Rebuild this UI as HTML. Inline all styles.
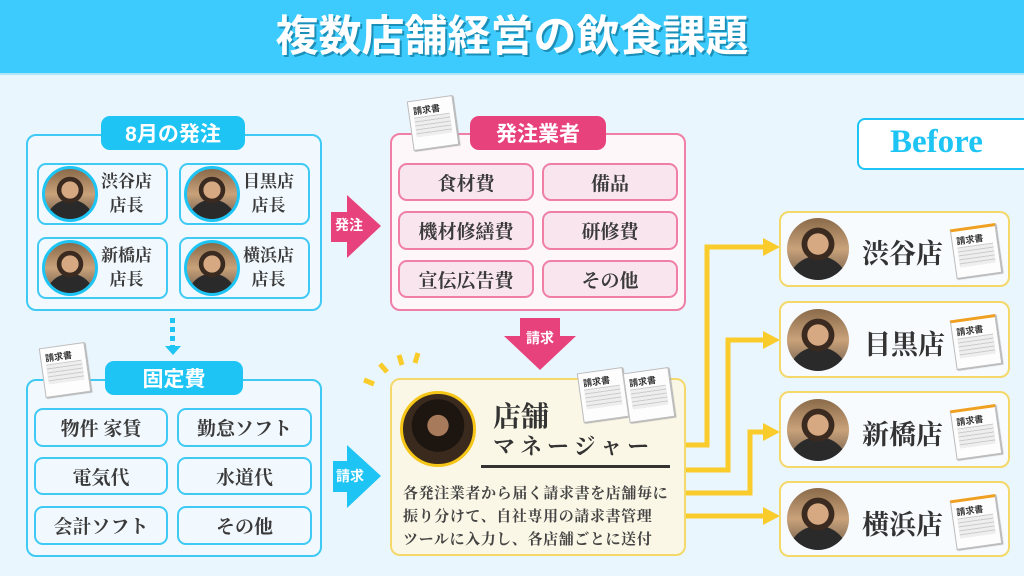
<!DOCTYPE html>
<html><head><meta charset="utf-8"><style>
*{margin:0;padding:0;box-sizing:border-box}
body{width:1024px;height:576px;overflow:hidden;background:#eaf6fd;position:relative;font-family:"Liberation Serif","Noto Serif CJK SC",serif;color:#333}
.a{position:absolute}
.g{font-family:"Liberation Sans","Noto Sans CJK JP",sans-serif;font-weight:bold}
.box{position:absolute;border-radius:10px;background:#f2f9fe}
.cell{position:absolute;border-radius:9px;display:flex;align-items:center;justify-content:center;font-size:19px;font-weight:bold;color:#3a3a3a}
.lab{position:absolute;border-radius:9px;color:#fff;display:flex;align-items:center;justify-content:center;font-size:21px}
.av{position:absolute;border-radius:50%;overflow:hidden;background:radial-gradient(circle at 50% 42%,#d7a982 0 22%,#3a2a20 23% 34%,transparent 35%),radial-gradient(circle at 50% 110%,#2a2a2a 0 40%,transparent 41%),linear-gradient(#8a6a4a,#c9a27a 50%,#6b5a4a)}
.inv{position:absolute;width:46px;height:50px;background:#fdfdfd;border:1px solid #bbb;transform:rotate(-8deg);box-shadow:1px 1px 1px #aaa}
.inv:before{content:"請求書";position:absolute;left:4px;top:3px;font-size:9px;font-weight:bold;font-family:"Noto Sans CJK JP",sans-serif}
.inv:after{content:"";position:absolute;left:4px;top:16px;width:36px;height:20px;background:repeating-linear-gradient(#ccc 0 1px,#eee 1px 4px)}
</style></head><body>
<div class="a g" style="left:0;top:0;width:1024px;height:75px;background:#3ccbfc;border-bottom:2px solid #aee6fb;color:#fff;font-size:43px;text-align:center;line-height:75px;text-shadow:2px 2px 0 #1b8fb8">複数店舗経営の飲食課題</div>

<!-- left top -->
<div class="box" style="left:26px;top:134px;width:296px;height:177px;border:2px solid #3fcaf5"></div>
<div class="lab g" style="left:101px;top:116px;width:144px;height:34px;background:#1ec4f4">8月の発注</div>
<div class="cell" style="left:37px;top:163px;width:131px;height:62px;border:2px solid #3fcaf5;justify-content:flex-end;padding-right:14px;line-height:24px;font-size:17px;text-align:center">渋谷店<br>店長</div>
<div class="cell" style="left:179px;top:163px;width:131px;height:62px;border:2px solid #3fcaf5;justify-content:flex-end;padding-right:14px;line-height:24px;font-size:17px;text-align:center">目黒店<br>店長</div>
<div class="cell" style="left:37px;top:237px;width:131px;height:62px;border:2px solid #3fcaf5;justify-content:flex-end;padding-right:14px;line-height:24px;font-size:17px;text-align:center">新橋店<br>店長</div>
<div class="cell" style="left:179px;top:237px;width:131px;height:62px;border:2px solid #3fcaf5;justify-content:flex-end;padding-right:14px;line-height:24px;font-size:17px;text-align:center">横浜店<br>店長</div>
<div class="av" style="left:42px;top:166px;width:56px;height:56px;border:3px solid #1ec4f4"></div>
<div class="av" style="left:184px;top:166px;width:56px;height:56px;border:3px solid #1ec4f4"></div>
<div class="av" style="left:42px;top:240px;width:56px;height:56px;border:3px solid #1ec4f4"></div>
<div class="av" style="left:184px;top:240px;width:56px;height:56px;border:3px solid #1ec4f4"></div>
<div class="a" style="left:170px;top:318px;width:5px;height:30px;background:repeating-linear-gradient(#1ec4f4 0 5px,transparent 5px 9px)"></div>
<div class="a" style="left:165px;top:346px;border-left:8px solid transparent;border-right:8px solid transparent;border-top:9px solid #1ec4f4"></div>

<!-- left bottom -->
<div class="box" style="left:26px;top:379px;width:296px;height:178px;border:2px solid #3fcaf5"></div>
<div class="inv" style="left:42px;top:345px"></div>
<div class="lab g" style="left:105px;top:361px;width:138px;height:34px;background:#1ec4f4">固定費</div>
<div class="cell" style="left:34px;top:408px;width:134px;height:39px;border:2px solid #3fcaf5">物件 家賃</div>
<div class="cell" style="left:177px;top:408px;width:135px;height:39px;border:2px solid #3fcaf5">勤怠ソフト</div>
<div class="cell" style="left:34px;top:457px;width:134px;height:38px;border:2px solid #3fcaf5">電気代</div>
<div class="cell" style="left:177px;top:457px;width:135px;height:38px;border:2px solid #3fcaf5">水道代</div>
<div class="cell" style="left:34px;top:506px;width:134px;height:39px;border:2px solid #3fcaf5">会計ソフト</div>
<div class="cell" style="left:177px;top:506px;width:135px;height:39px;border:2px solid #3fcaf5">その他</div>

<!-- arrows -->
<svg class="a" style="left:0;top:0" width="1024" height="576">
<polygon points="331,212 347,212 347,195 381,226 347,258 347,242 331,242" fill="#e8427c"/>
<polygon points="333,461 347,461 347,445 381,476 347,508 347,492 333,492" fill="#1ec4f4"/>
<polygon points="520,318 560,318 560,336 576,336 540,370 504,336 520,336" fill="#e8427c"/>
<g stroke="#f9cc2c" stroke-width="5" fill="none">
<polyline points="686,445 707,445 707,247 765,247"/>
<polyline points="686,470 728,470 728,340 765,340"/>
<polyline points="686,493 750,493 750,432 765,432"/>
<polyline points="686,516 765,516"/>
<line x1="374" y1="384" x2="364" y2="380"/><line x1="387" y1="372" x2="380" y2="364"/>
<line x1="402" y1="365" x2="399" y2="355"/><line x1="415" y1="363" x2="418" y2="353"/>
</g>
<g fill="#f9cc2c">
<polygon points="763,238 780,247 763,256"/><polygon points="763,331 780,340 763,349"/>
<polygon points="763,423 780,432 763,441"/><polygon points="763,507 780,516 763,525"/>
</g>
</svg>
<div class="a g" style="left:335px;top:215px;color:#fff;font-size:14px">発注</div>
<div class="a g" style="left:336px;top:466px;color:#fff;font-size:14px">請求</div>
<div class="a g" style="left:526px;top:328px;color:#fff;font-size:14px">請求</div>

<!-- pink box -->
<div class="box" style="left:390px;top:133px;width:296px;height:178px;border:2px solid #ef7fa6;background:#fdf7fa"></div>
<div class="inv" style="left:410px;top:98px"></div>
<div class="lab g" style="left:470px;top:116px;width:136px;height:34px;background:#e8427c">発注業者</div>
<div class="cell" style="left:398px;top:163px;width:136px;height:38px;border:2px solid #ef7fa6;background:#f9e5ee">食材費</div>
<div class="cell" style="left:542px;top:163px;width:136px;height:38px;border:2px solid #ef7fa6;background:#f9e5ee">備品</div>
<div class="cell" style="left:398px;top:211px;width:136px;height:39px;border:2px solid #ef7fa6;background:#f9e5ee">機材修繕費</div>
<div class="cell" style="left:542px;top:211px;width:136px;height:39px;border:2px solid #ef7fa6;background:#f9e5ee">研修費</div>
<div class="cell" style="left:398px;top:260px;width:136px;height:38px;border:2px solid #ef7fa6;background:#f9e5ee">宣伝広告費</div>
<div class="cell" style="left:542px;top:260px;width:136px;height:38px;border:2px solid #ef7fa6;background:#f9e5ee">その他</div>

<!-- yellow box -->
<div class="box" style="left:390px;top:378px;width:296px;height:178px;border:2px solid #f5d86a;background:#fbf7e6"></div>
<div class="inv" style="left:580px;top:370px"></div>
<div class="inv" style="left:626px;top:370px"></div>
<div class="av" style="left:400px;top:391px;width:76px;height:76px;border:3px solid #f5c518;background:radial-gradient(circle at 50% 45%,#a67a5a 0 20%,#1d1510 21% 50%,#3a2a1e 51%)"></div>
<div class="a" style="left:493px;top:395px;font-size:28px;font-weight:bold">店舗</div>
<div class="a" style="left:493px;top:430px;font-size:22px;font-weight:bold;letter-spacing:5px">マネージャー</div>
<div class="a" style="left:481px;top:465px;width:189px;height:3px;background:#333"></div>
<div class="a" style="left:403px;top:483px;font-size:15px;font-weight:bold;line-height:23px;color:#444;letter-spacing:0.6px">各発注業者から届く請求書を店舗毎に<br>振り分けて、自社専用の請求書管理<br>ツールに入力し、各店舗ごとに送付</div>

<!-- Before -->
<div class="a" style="left:857px;top:118px;width:180px;height:52px;border:2px solid #1ec4f4;border-radius:8px;background:#fff"></div>
<div class="a" style="left:890px;top:124px;font-size:33px;font-weight:bold;color:#1ec4f4;font-family:'Liberation Serif',serif">Before</div>

<!-- right cards -->
<div class="box" style="left:779px;top:211px;width:231px;height:76px;border:2px solid #f5d86a;background:#f7fbfe"></div>
<div class="box" style="left:779px;top:301px;width:231px;height:77px;border:2px solid #f5d86a;background:#f7fbfe"></div>
<div class="box" style="left:779px;top:391px;width:231px;height:77px;border:2px solid #f5d86a;background:#f7fbfe"></div>
<div class="box" style="left:779px;top:481px;width:231px;height:76px;border:2px solid #f5d86a;background:#f7fbfe"></div>
<div class="av" style="left:787px;top:218px;width:62px;height:62px"></div>
<div class="av" style="left:787px;top:309px;width:62px;height:62px"></div>
<div class="av" style="left:787px;top:399px;width:62px;height:62px"></div>
<div class="av" style="left:787px;top:488px;width:62px;height:62px"></div>
<div class="a" style="left:862px;top:232px;font-size:27px;font-weight:bold">渋谷店</div>
<div class="a" style="left:864px;top:323px;font-size:27px;font-weight:bold">目黒店</div>
<div class="a" style="left:862px;top:413px;font-size:27px;font-weight:bold">新橋店</div>
<div class="a" style="left:862px;top:503px;font-size:27px;font-weight:bold">横浜店</div>
<div class="inv" style="left:953px;top:226px;border-top:3px solid #f0a020"></div>
<div class="inv" style="left:953px;top:317px;border-top:3px solid #f0a020"></div>
<div class="inv" style="left:953px;top:407px;border-top:3px solid #f0a020"></div>
<div class="inv" style="left:953px;top:497px;border-top:3px solid #f0a020"></div>
</body></html>
